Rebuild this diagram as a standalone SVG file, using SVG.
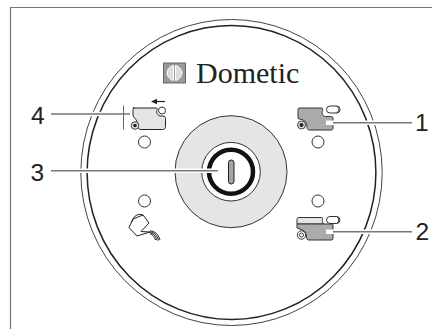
<svg xmlns="http://www.w3.org/2000/svg" width="432" height="329" viewBox="0 0 432 329">
<style>
.halo{fill:none;stroke:#fff;stroke-width:4.500}
.l{fill:none;stroke:#777;stroke-width:1.400}
.o{fill:none;stroke:#222;stroke-width:1}
.h{fill:#fff;stroke:#333;stroke-width:1}
.t{font-family:"Liberation Sans",Arial,sans-serif;font-size:24.500px;fill:#222}
</style>
<rect width="432" height="329" fill="#fff"/>
<path d="M10.500 329V7.500H432" fill="none" stroke="#777" stroke-width="1.200"/>
<g id="dial">
<ellipse cx="231.500" cy="172.500" rx="150.700" ry="153" fill="none" stroke="#444" stroke-width="1"/>
<ellipse cx="231.500" cy="172.500" rx="144.400" ry="147" fill="none" stroke="#222" stroke-width="1.500"/>
</g>
<g id="logo">
<rect x="163.500" y="63" width="22" height="20" fill="#999" stroke="#666"/>
<path d="M173.500 65.500c-8.500 2-8.500 13 0 15zM175.500 65.500c8.500 2 8.500 13 0 15z" fill="#ddd" stroke="#fff"/>
<text x="196" y="83" font-family="'Liberation Serif','Times New Roman',serif" font-size="30" fill="#222">Dometic</text>
</g>
<g id="knob">
<circle cx="231" cy="171.700" r="56" fill="#e4e5e6" stroke="#333" stroke-width="1"/>
<circle cx="231" cy="171.700" r="29.300" fill="#fff" stroke="#333" stroke-width="1"/>
<circle cx="231" cy="171.700" r="22" fill="#fff" stroke="#111" stroke-width="4.500"/>
<rect x="228.500" y="160" width="5.500" height="24" rx="2.700" fill="#a5a5a5" stroke="#222" stroke-width="1"/>
</g>
<g id="pos4">
<path d="M133 108h23c1.500 0 1.500 1 1 2.500 -1 3 1 5.500 4 5.500h2c2 0 2.500 1 2.500 2.500v8c0 2-1 3-3 3h-22.500c-1 0-1.500-1-1.500-2 0-5-2.500-8-4-9.500 -1.500-1.500-1.500-3-1.500-4v-2c0-2 0-4 1-4.500z" fill="#e3e4e5" stroke="#222" stroke-width="1"/>
<circle cx="162" cy="110.500" r="3.500" class="h"/>
<circle cx="135" cy="125.500" r="3.800" fill="#ddd" stroke="#444"/>
<circle cx="135" cy="125.500" r="1.800" fill="#222"/>
<path d="M123.500 105.500v24" stroke="#666" stroke-width="1" fill="none"/>
<path d="M165 101.500h-8" stroke="#222" stroke-width="1.200" fill="none"/>
<path d="M151 101.500l6-2.800v5.600z" fill="#222"/>
<circle cx="144.500" cy="142" r="6" class="h"/>
</g>
<g id="pos1">
<path d="M299 108h22c2 0 2 1 1.500 2.500 -1 3 0 5.500 3 6h5c2 0 2.500 .5 2.500 2.500v8.500c0 2-.5 2.500-2.500 2.500h-21c-1.500 0-2.500-1-2.500-2.500 0-4-1-6.500-4-7.500l-5-1.500v-8.500c0-1 .5-2 1-2z" fill="#aaabad" stroke="#333" stroke-width="1"/>
<rect x="326.500" y="106" width="13.500" height="7" rx="3.500" class="h"/>
<path d="M336.500 106c3 2 3 5 0 7" class="o"/>
<circle cx="301.500" cy="125" r="4" fill="#ddd" stroke="#444"/>
<circle cx="301.500" cy="125" r="2" fill="#222"/>
<circle cx="318" cy="142" r="6" class="h"/>
</g>
<g id="pos2">
<path d="M299 217.500h22c2 0 2 1 1.500 2 -.5 1.500 0 3 1 4.500h-26.500v-4.500c0-1 .5-2 2-2z" fill="#e3e4e5" stroke="#333" stroke-width="1"/>
<path d="M297 224h35.500c.5 0 .5 .5 .5 2v12c0 1.500-.5 2-2 2h-22c-1.500 0-2.500-1-2.500-2.500 0-4-1-6.500-4-7.500l-5.500-2z" fill="#aaabad" stroke="#333" stroke-width="1"/>
<rect x="326.500" y="216.500" width="13.500" height="7" rx="3.500" class="h"/>
<path d="M336.500 216.500c3 2 3 5 0 7" class="o"/>
<circle cx="301.500" cy="235" r="4.200" class="h"/>
<circle cx="301.500" cy="235" r="2" class="h"/>
<circle cx="318" cy="201" r="6" class="h"/>
</g>
<g id="pos5">
<circle cx="144.500" cy="201" r="6" class="h"/>
<path d="M133 219a7.500 7.500 0 0 1 10 -4l6 8-8 8.500 9 .5-13 4-8-8.500z" fill="#fff" stroke="#222" stroke-width="1"/>
<path d="M133 219l-1.500 3.500M143 215l-10 4M150 231c5 0 8 3 10 9M150 232c4 0 7 3 8.500 8.500M150 233c3 0 5.500 3 7 7.500M150 234c2 0 4 2 5.500 6" class="o"/>
</g>
<g id="connectors">
<path class="halo" d="M51 114H122M51 170.700H218M326 122.700H412M326 231.700H412"/>
<path class="l" d="M51 114H130M51 170.700H218M333 122.700H412M333 231.700H412"/>
</g>
<g id="labels">
<text class="t" x="31" y="124">4</text>
<text class="t" x="30.500" y="180.500">3</text>
<text class="t" x="415" y="130.500">1</text>
<text class="t" x="415.500" y="239.500">2</text>
</g>
</svg>
